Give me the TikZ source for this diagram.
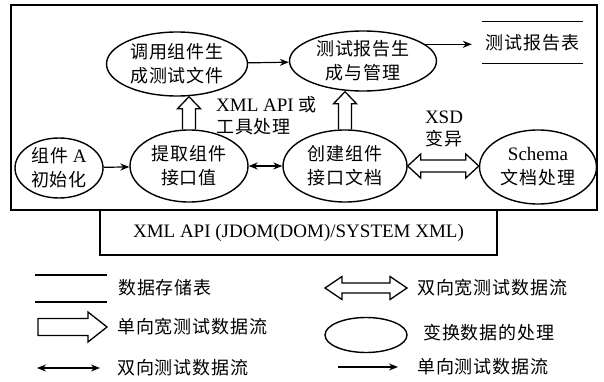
\documentclass[tikz,border=0pt]{standalone}
\usepackage{fontspec}
\setmainfont{Liberation Serif}
\newfontfamily\cjkfont[LetterSpace=5]{Noto Sans CJK SC}
\newcommand{\zh}[1]{{\cjkfont #1}}
\usetikzlibrary{shapes.geometric,arrows.meta,calc}
\tikzset{
  proc/.style={ellipse, draw, line width=1.4pt, inner sep=0pt, align=center, font=\fontsize{18}{24}\selectfont},
  lbl/.style={inner sep=0pt, font=\fontsize{18}{22}\selectfont},
  latin/.style={font=\fontsize{19}{22}\selectfont},
  flow/.style={line width=1.2pt, -{Stealth[length=9pt,width=7pt]}},
  flowboth/.style={line width=1.2pt, {Stealth[length=9pt,width=7pt]}-{Stealth[length=9pt,width=7pt]}},
  hollow/.style={line width=1.3pt, line join=miter},
  frame/.style={draw, line width=1.5pt},
  store/.style={line width=1.3pt},
}
% vertical hollow arrow: base, tip
\newcommand{\uphollow}[2]{%
 \draw[hollow] let \p1=(#1), \p2=(#2) in
  (\x1-6.5pt,\y1) -- (\x1-6.5pt,\y2-12pt) -- (\x1-11.5pt,\y2-12pt) -- (\x1,\y2)
  -- (\x1+11.5pt,\y2-12pt) -- (\x1+6.5pt,\y2-12pt) -- (\x1+6.5pt,\y1);}
% horizontal double hollow arrow: left, right, shaft half, head half, head length
\newcommand{\hdoublehollow}[5]{%
 \draw[hollow] let \p1=(#1), \p2=(#2) in
  (\x1,\y1) -- (\x1+#5,\y1+#4) -- (\x1+#5,\y1+#3) -- (\x2-#5,\y1+#3) -- (\x2-#5,\y1+#4)
  -- (\x2,\y1) -- (\x2-#5,\y1-#4) -- (\x2-#5,\y1-#3) -- (\x1+#5,\y1-#3) -- (\x1+#5,\y1-#4) -- cycle;}
% horizontal single hollow arrow: left, right, shaft half, head half, head length
\newcommand{\hsinglehollow}[5]{%
 \draw[hollow] let \p1=(#1), \p2=(#2) in
  (\x1,\y1+#3) -- (\x2-#5,\y1+#3) -- (\x2-#5,\y1+#4) -- (\x2,\y1)
  -- (\x2-#5,\y1-#4) -- (\x2-#5,\y1-#3) -- (\x1,\y1-#3) -- cycle;}
\begin{document}
\begin{tikzpicture}[x=1pt,y=-1pt]
\useasboundingbox (0,0) rectangle (604,382);
% frames
\draw[frame] (11,5) rectangle (597,210);
\node[frame, minimum width=397pt, minimum height=45pt, inner sep=0pt, latin] (api) at (298.5,232.5) {XML API (JDOM(DOM)/SYSTEM XML)};
% processes
\node[proc, minimum width=141pt, minimum height=64pt] (call) at (177,64) {\zh{调用组件生}\\\zh{成测试文件}};
\node[proc, minimum width=147pt, minimum height=60pt] (rep) at (363,61) {\zh{测试报告生}\\\zh{成与管理}};
\node[proc, minimum width=88pt, minimum height=60pt] (init) at (59,168) {\zh{组件} {\fontsize{19}{24}\selectfont A}\\\zh{初始化}};
\node[proc, minimum width=118pt, minimum height=72pt] (ext) at (189,166) {\zh{提取组件}\\\zh{接口值}};
\node[proc, minimum width=124pt, minimum height=72pt] (crt) at (345,166) {\zh{创建组件}\\\zh{接口文档}};
\node[proc, minimum width=117pt, minimum height=74pt] (sch) at (538,167) {{\fontsize{19}{24}\selectfont Schema}\\\zh{文档处理}};
% data store
\node[lbl, minimum width=101pt, minimum height=41pt] (tbl) at (532.5,42.5) {\zh{测试报告表}};
\draw[store] (tbl.north west) -- (tbl.north east);
\draw[store] (tbl.south west) -- (tbl.south east);
% connectors
\draw[flow] (call) -- (rep);
\draw[flow, shorten >=10pt] (rep.15) -- (rep.15 -| tbl.west);
\draw[flow] (init) -- (ext);
\draw[flowboth] (ext) -- (crt);
\uphollow{ext.north}{ext.north |- call.south}
\uphollow{crt.north}{crt.north |- rep.south}
\hdoublehollow{crt.east}{sch.west}{6pt}{12pt}{13pt}
% labels
\node[lbl, anchor=west, align=left] (xmlapi) at (216,116) {{\fontsize{19}{22}\selectfont XML API} \zh{或}\\\zh{工具处理}};
\node[lbl, align=center] (xsd) at (444,129) {{\fontsize{19}{22}\selectfont XSD}\\\zh{变异}};
% legend
\coordinate (s1) at (35,275); \coordinate (s2) at (107,275);
\coordinate (s3) at (35,302); \coordinate (s4) at (107,302);
\draw[store] (s1) -- (s2);
\draw[store] (s3) -- (s4);
\node[lbl, anchor=west] (t1) at (118,288) {\zh{数据存储表}};
\coordinate (w1) at (38,327); \coordinate (w2) at (107,327);
\hsinglehollow{w1}{w2}{8.5pt}{15pt}{19pt}
\node[lbl, anchor=west] (t2) at (117,327) {\zh{单向宽测试数据流}};
\coordinate (b1) at (37,368); \coordinate (b2) at (100,368);
\draw[flowboth] (b1) -- (b2);
\node[lbl, anchor=west] (t3) at (117,368) {\zh{双向测试数据流}};
\coordinate (d1) at (325,288); \coordinate (d2) at (407,288);
\hdoublehollow{d1}{d2}{5pt}{11.5pt}{17pt}
\node[lbl, anchor=west] (t4) at (417,288) {\zh{双向宽测试数据流}};
\node[ellipse, draw, line width=1.4pt, minimum width=82pt, minimum height=35pt, inner sep=0pt] (lell) at (366,335) {};
\node[lbl, anchor=west] (t5) at (423,333) {\zh{变换数据的处理}};
\coordinate (a1) at (338,367); \coordinate (a2) at (398,367);
\draw[flow] (a1) -- (a2);
\node[lbl, anchor=west] (t6) at (417,367) {\zh{单向测试数据流}};
\end{tikzpicture}
\end{document}
